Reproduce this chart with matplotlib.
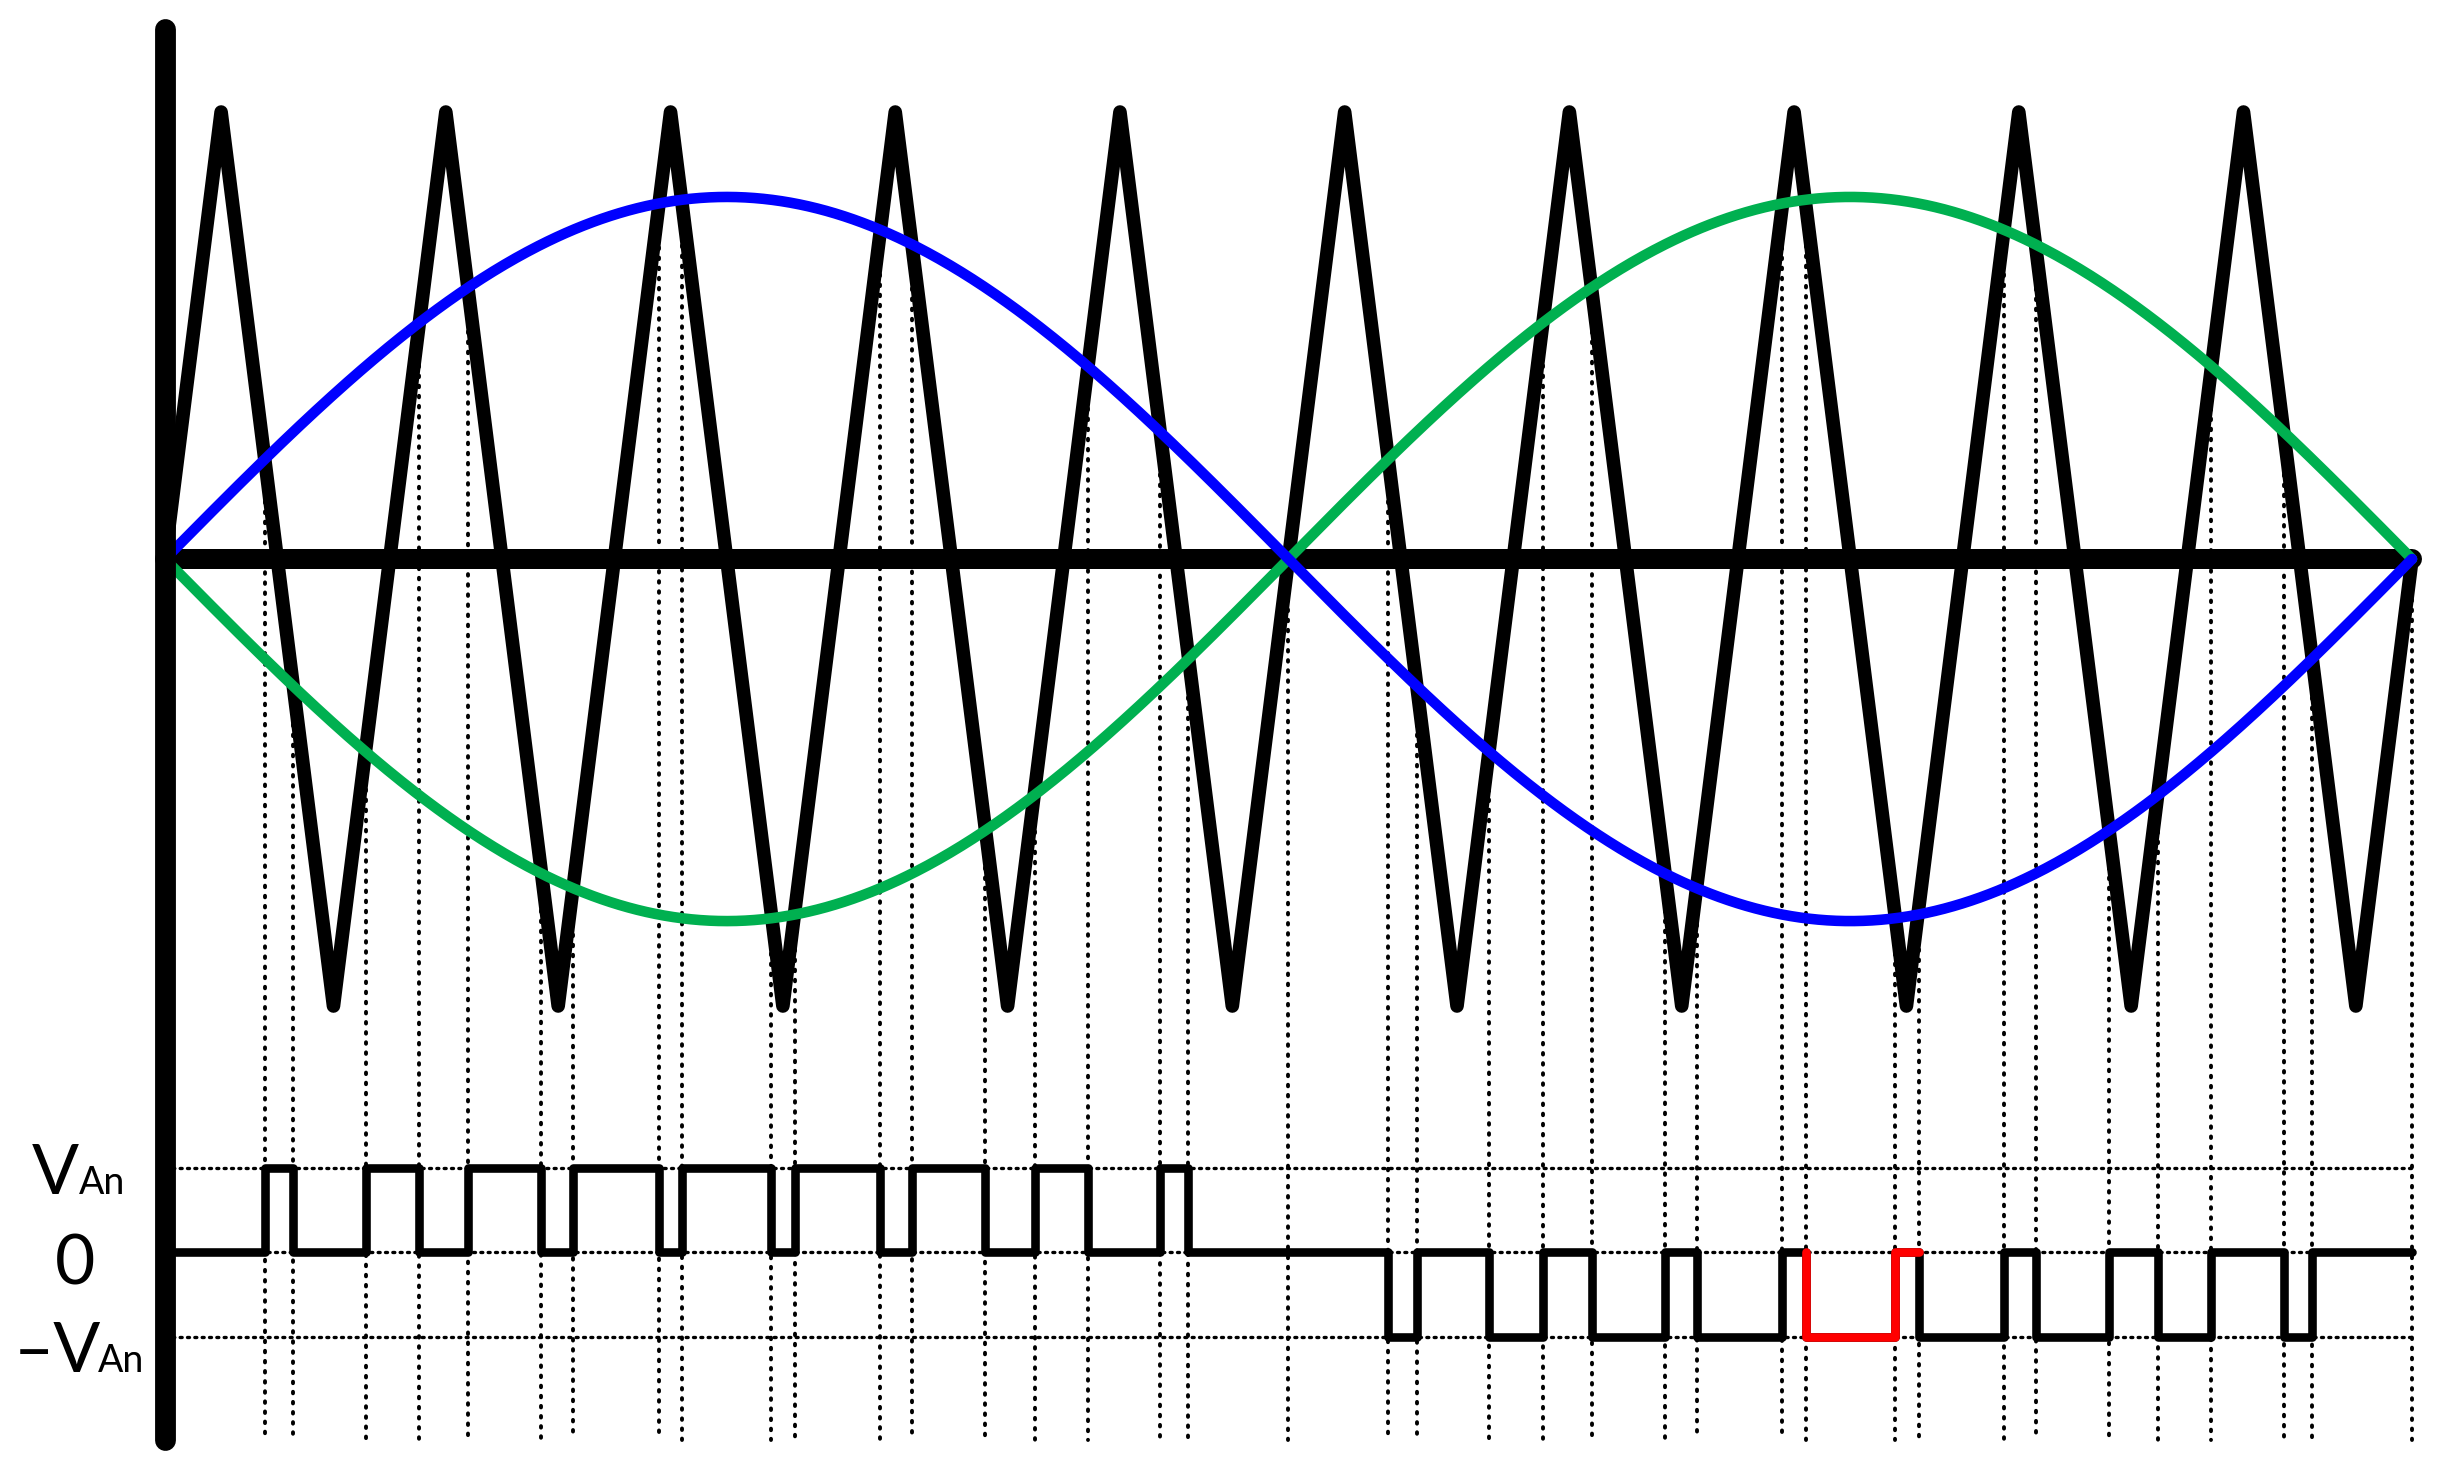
import numpy as np
import matplotlib.pyplot as plt

# --- data (time in fundamental periods, carrier amplitude = 1) ---
carrier_t = [0.0, 0.025, 0.075, 0.125, 0.175, 0.225, 0.275, 0.325, 0.375, 0.425, 0.475,
             0.525, 0.575, 0.625, 0.675, 0.725, 0.775, 0.825, 0.875, 0.925, 0.975, 1.0]
carrier_v = [0, 1, -1, 1, -1, 1, -1, 1, -1, 1, -1,
             1, -1, 1, -1, 1, -1, 1, -1, 1, -1, 0]

mod_index = 0.81  # sine reference amplitude

# switching instants of the output voltage
switch_t = [0.0445, 0.057, 0.0894, 0.1131, 0.135, 0.1674, 0.1818, 0.2197, 0.2302,
            0.2698, 0.2804, 0.3182, 0.3326, 0.365, 0.387, 0.4107, 0.443, 0.4555,
            0.5445, 0.557, 0.5894, 0.6131, 0.635, 0.6674, 0.6818, 0.7197, 0.7302,
            0.7698, 0.7804, 0.8182, 0.8326, 0.865, 0.887, 0.9107, 0.943, 0.9555]
# output level in each interval (+1 = V_An, 0, -1 = -V_An)
out_levels = [0, 1, 0, 1, 0, 1, 0, 1, 0, 1, 0, 1, 0, 1, 0, 1, 0, 1, 0,
              -1, 0, -1, 0, -1, 0, -1, 0, -1, 0, -1, 0, -1, 0, -1, 0, -1, 0]
# extra dotted guide lines where carrier meets both references
extra_guides_t = [0.5, 1.0]

# highlighted interval (red)
red_t = [0.7302, 0.7302, 0.7698, 0.7804]
red_levels = [0, -1, 0, 0]

level_labels = ["V", "0", "\u2013V"]
level_subs = ["An", "", "An"]
level_values = [1, 0, -1]

# --- layout of output trace inside the same axes ---
out_zero = -1.551
out_step = 0.189

fig = plt.figure(figsize=(24.48, 14.70), dpi=100)
ax = fig.add_axes([0, 0, 1, 1])
ax.set_xlim(-0.0734, 1.016)
ax.set_ylim(-2.038, 1.2506)
ax.axis("off")

y_bottom = -1.97

# vertical dotted guides from the crossing down to bottom
for t in switch_t + extra_guides_t:
    y_top = np.interp(t, carrier_t, carrier_v)
    ax.plot([t, t], [y_top, y_bottom], color="k", lw=2.8, linestyle=(0, (0.4, 2.2)),
            dash_capstyle="round", zorder=1)

# horizontal dotted guides at output levels
for lv in level_values:
    y = out_zero + lv * out_step
    ax.plot([0, 1], [y, y], color="k", lw=2.4, linestyle=(0, (0.6, 1.6)),
            dash_capstyle="round", zorder=1)

# midline
ax.plot([0, 1], [0, 0], color="k", lw=14.4, solid_capstyle="round", zorder=2)

# carrier
ax.plot(carrier_t, carrier_v, color="k", lw=9.8, solid_joinstyle="round",
        solid_capstyle="round", zorder=3)

# references
tt = np.linspace(0, 1, 1000)
ax.plot(tt, -mod_index * np.sin(2 * np.pi * tt), color="#00B050", lw=7.6,
        solid_capstyle="round", zorder=4)
ax.plot(tt, mod_index * np.sin(2 * np.pi * tt), color="#0000FF", lw=7.6,
        solid_capstyle="round", zorder=5)

# output voltage
edges = [0.0] + switch_t + [1.0]
vals = out_levels + [out_levels[-1]]
ax.step(edges, [out_zero + v * out_step for v in vals], where="post", color="k",
        lw=6.2, solid_joinstyle="round", solid_capstyle="round", zorder=6)
ax.step(red_t, [out_zero + v * out_step for v in red_levels], where="post",
        color="#FF0000", lw=6.2, solid_joinstyle="round", solid_capstyle="round", zorder=7)

# vertical axis
ax.plot([0, 0], [y_bottom, 1.185], color="k", lw=15, solid_capstyle="round", zorder=8)

# level labels
font = "Lato"
ax.text(-0.0592, -1.4206, level_labels[0], fontsize=50, family=font, va="baseline", ha="left")
ax.text(-0.0385, -1.4206, level_subs[0], fontsize=27, family=font, va="baseline", ha="left")
ax.text(-0.0401, -1.622, level_labels[1], fontsize=50, family=font, va="baseline", ha="center")
ax.text(-0.0672, -1.819, level_labels[2], fontsize=50, family=font, va="baseline", ha="left")
ax.text(-0.0298, -1.819, level_subs[2], fontsize=27, family=font, va="baseline", ha="left")

fig.savefig("out.png", dpi=100)
